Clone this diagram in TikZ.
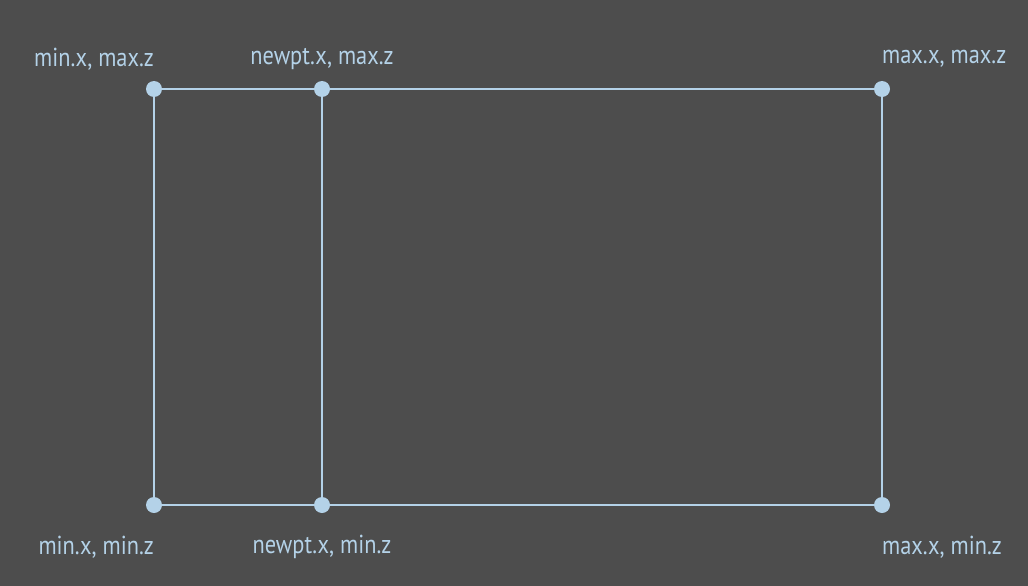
\documentclass[tikz,border=0pt]{standalone}
\usepackage{fontspec}
\setmainfont{PT Sans}[FakeStretch=0.86]
\usepackage{xcolor}
\definecolor{bgray}{HTML}{4D4D4D}
\definecolor{lblue}{HTML}{B4D2E8}
\tikzset{
    corner/.style={circle, fill=lblue, inner sep=0pt, minimum size=16pt},
    edge/.style={draw=lblue, line width=2.2pt},
    ptlabel/.style={text=lblue, font=\fontsize{26}{29}\selectfont, inner sep=0pt}
}
\begin{document}
\begin{tikzpicture}[x=1pt, y=-1pt]
\fill[bgray] (0,0) rectangle (1028,586);
\useasboundingbox (0,0) rectangle (1028,586);
\foreach \x/\y/\p/\labelanchor/\dx/\dy/\labeltext in {154/89/minmax/east/0/-30/{min.x, max.z}, 322/89/newmax/center/0/-30/{newpt.x, max.z}, 882/89/maxmax/west/0/-30/{max.x, max.z}, 154/505/minmin/east/0/42/{min.x, min.z}, 322/505/newmin/center/0/42/{newpt.x, min.z}, 882/505/maxmin/west/0/42/{max.x, min.z}}{
    \node[corner] (\p) at (\x,\y) {};
    \node[ptlabel, anchor=\labelanchor] (\p-lbl) at (\x+\dx,\y+\dy) {\labeltext};
}
\draw[edge] (minmax) -- (maxmax) -- (maxmin) -- (minmin) -- (minmax);
\draw[edge] (newmax) -- (newmin);
\end{tikzpicture}
\end{document}
